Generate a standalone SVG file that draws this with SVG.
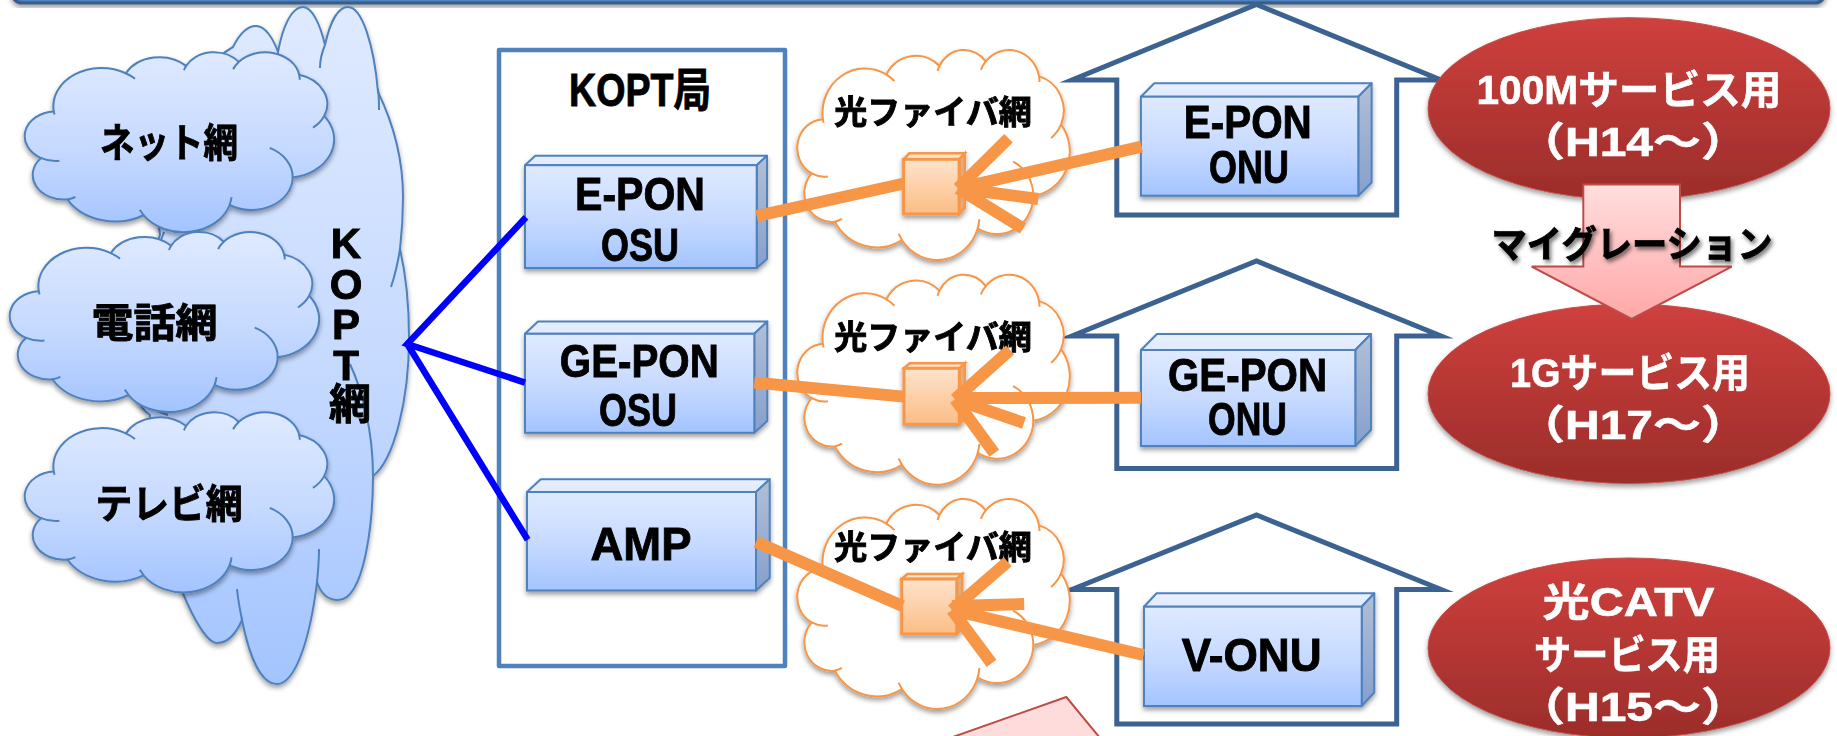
<svg xmlns="http://www.w3.org/2000/svg" xmlns:xlink="http://www.w3.org/1999/xlink" width="1837" height="736" viewBox="0 0 1837 736">
<style>
text{font-family:"Liberation Sans","Noto Sans CJK JP",sans-serif;font-weight:700;text-anchor:middle;fill:#000;stroke:#000;stroke-width:.9}
.w{fill:#fff;stroke:#fff;stroke-width:.6}
.blue{fill:url(#gBlue);stroke:#4f81bd;stroke-width:2}
.org{fill:#fff;stroke:#f79646;stroke-width:2}
.cut{vector-effect:non-scaling-stroke}
.ftop{fill:url(#gTop);stroke:#4f81bd;stroke-width:2;stroke-linejoin:round}
.fside{fill:url(#gSide);stroke:#4f81bd;stroke-width:2;stroke-linejoin:round}
.otop{fill:#fde3cc;stroke:#f79646;stroke-width:2.5}
.oside{fill:#e0ac80;stroke:#f79646;stroke-width:2.5}
.ofront{fill:url(#gOrg);stroke:#f79646;stroke-width:3}
.house{fill:#fff;stroke:#3c6292;stroke-width:5;stroke-miterlimit:20}
.red{fill:url(#gRed);stroke:#c0504d;stroke-width:1}
.pink{fill:url(#gPink);stroke:#be4b48;stroke-width:2}
.bl{fill:none;stroke:#0000ff;stroke-width:6.5}
.ol{fill:none;stroke:#f79646;stroke-width:12}
</style>
<defs>
<linearGradient id="gBlue" x1="0" y1="0" x2="0" y2="1"><stop offset="0" stop-color="#dfeaff"/><stop offset=".55" stop-color="#c5d9ff"/><stop offset="1" stop-color="#a3c4ff"/></linearGradient>
<linearGradient id="gTop" x1="0" y1="0" x2="0" y2="1"><stop offset="0" stop-color="#e8f0ff"/><stop offset="1" stop-color="#e0eaff"/></linearGradient>
<linearGradient id="gSide" x1="0" y1="0" x2="0" y2="1"><stop offset="0" stop-color="#b2bfd6"/><stop offset="1" stop-color="#86a0cc"/></linearGradient>
<linearGradient id="gOrg" x1="0" y1="0" x2="0" y2="1"><stop offset="0" stop-color="#fee3cc"/><stop offset="1" stop-color="#fcbd85"/></linearGradient>
<linearGradient id="gRed" x1="0" y1="0" x2="0" y2="1"><stop offset="0" stop-color="#cf403d"/><stop offset="1" stop-color="#9b2d2a"/></linearGradient>
<linearGradient id="gPink" x1="0" y1="0" x2="0" y2="1"><stop offset="0" stop-color="#ffdede"/><stop offset="1" stop-color="#ffa8a8"/></linearGradient>
<filter id="sh" x="-10%" y="-10%" width="120%" height="125%"><feDropShadow dx="0" dy="3" stdDeviation="2.5" flood-color="#000" flood-opacity=".38"/></filter>
<filter id="tsh" x="-10%" y="-30%" width="120%" height="170%"><feDropShadow dx="2" dy="3" stdDeviation="2" flood-color="#000" flood-opacity=".55"/></filter>
<g id="cloud">
<path class="cut" d="M3900 14370A6753 9190 0 0 1 14004 5200A5333 7267 0 0 1 22455 3430A4365 5945 0 0 1 29832 2479A4857 6595 0 0 1 38317 5574A5333 7273 0 0 1 41818 15458A6775 9220 0 0 1 37405 30204A5785 7867 0 0 1 28557 36815A6752 9215 0 0 1 16483 39267A7720 10543 0 0 1 5808 35473A4360 5918 0 0 1 2118 25550A4345 5945 0 0 1 3900 14370Z"/>
<path class="cut" fill="none" d="M4693 26177A4345 5945 0 0 1 2118 25550M6928 34899A4360 5918 0 0 1 5808 35473M15950 37960A6752 9215 0 0 1 16483 39267M28821 34947A6752 9215 0 0 1 28557 36815M34186 23091A5785 7867 0 0 1 37405 30204M41818 15458A5333 7273 0 0 1 40250 18261M38317 5574A4857 6595 0 0 1 38394 6744M29050 4218A4857 6595 0 0 1 29832 2479M22160 4467A4365 5945 0 0 1 22455 3430M14004 5200A6753 9190 0 0 1 15290 6532M4000 15115A6753 9190 0 0 1 3900 14370"/>
</g>
</defs>

<g id="top-bar" filter="url(#sh)"><rect x="12" y="-30" width="1813" height="33" rx="10" fill="#4f81bd" stroke="#385d8a" stroke-width="3"/></g>

<g id="house-1"><path class="house" d="M1116.8 80H1072L1256.5 4.5L1441 80H1396.7V215H1116.8Z"/></g>
<g id="house-2"><path class="house" d="M1116.8 336H1072L1256.5 261L1441 336H1396.7V468.5H1116.8Z"/></g>
<g id="house-3"><path class="house" d="M1116.8 589.5H1072L1256.5 515L1441 589.5H1396.7V724H1116.8Z"/></g>

<g id="kopt-net" filter="url(#sh)">
<path class="blue" d="M233 47C240 33 248 26 256 26C265 26 273 38 278 52C283 25 292 7 303 7C312 7 320 24 325 45C330 22 338 7 348 7C362 7 374 45 378 92C394 125 403 160 403 197C403 218 402 232 400 249C406 275 409 305 409 338C409 400 394 460 373 476C373 520 365 600 338 600C328 600 321 594 317 582C310 640 295 684 277 684C262 684 250 660 242 620C235 636 227 643 217 643C207 643 193 618 182 591C160 560 145 480 150 415C125 400 120 330 160 235C150 170 190 70 233 47Z"/>
<path fill="none" stroke="#4f81bd" stroke-width="2" d="M320 68C320 60 322 52 325 45M378 89C379 96 379 103 379 110M400 249C398 262 395 275 391 287M350 364C362 390 373 430 373 476M319 549C319 560 318 572 317 582M237 589C238 600 240 610 242 620M157 411L168 415M164 232L161 240"/>
<text x="346" y="220" font-size="42" style="writing-mode:vertical-rl;text-orientation:upright;text-anchor:start;letter-spacing:-6.5px">KOPT網</text>
</g>

<g id="net-cloud" filter="url(#sh)"><use href="#cloud" class="blue" transform="translate(26 51.6) scale(.00713 .004167)"/><text x="169" y="157" font-size="40" textLength="138" lengthAdjust="spacingAndGlyphs">ネット網</text></g>
<g id="tel-cloud" filter="url(#sh)"><use href="#cloud" class="blue" transform="translate(11 231.4) scale(.00713 .004167)"/><text x="154.5" y="337" font-size="40" textLength="126" lengthAdjust="spacingAndGlyphs">電話網</text></g>
<g id="tv-cloud" filter="url(#sh)"><use href="#cloud" class="blue" transform="translate(26 411.7) scale(.00713 .004167)"/><text x="169" y="518" font-size="40" textLength="147" lengthAdjust="spacingAndGlyphs">テレビ網</text></g>

<g id="kopt-station"><rect x="499" y="50" width="286" height="616" fill="none" stroke="#4f81bd" stroke-width="4.5" stroke-linejoin="round"/><text x="640" y="106" font-size="46" textLength="142" lengthAdjust="spacingAndGlyphs">KOPT局</text></g>

<g id="epon-osu" filter="url(#sh)">
<path class="ftop" d="M525 165.2L535.3 155.8H767L756.7 165.2Z"/><path class="fside" d="M756.7 165.2L767 155.8V259L756.7 268Z"/><rect class="blue" x="525" y="165.2" width="231.7" height="102.8"/>
<text x="640" y="210" font-size="47" textLength="130" lengthAdjust="spacingAndGlyphs">E-PON</text><text x="640" y="260.5" font-size="47" textLength="78" lengthAdjust="spacingAndGlyphs">OSU</text></g>
<g id="gepon-osu" filter="url(#sh)">
<path class="ftop" d="M525 333.8L538 321.5H767.3L754.3 333.8Z"/><path class="fside" d="M754.3 333.8L767.3 321.5V421L754.3 432.8Z"/><rect class="blue" x="525" y="333.8" width="229.3" height="99"/>
<text x="639.3" y="376.5" font-size="47" textLength="159" lengthAdjust="spacingAndGlyphs">GE-PON</text><text x="638" y="426.2" font-size="47" textLength="78" lengthAdjust="spacingAndGlyphs">OSU</text></g>
<g id="amp" filter="url(#sh)">
<path class="ftop" d="M527 492L540.7 479.3H769.7L756 492Z"/><path class="fside" d="M756 492L769.7 479.3V578L756 590.5Z"/><rect class="blue" x="527" y="492" width="229" height="98.5"/>
<text x="641" y="559.5" font-size="47" textLength="101" lengthAdjust="spacingAndGlyphs">AMP</text></g>

<g id="fiber-1" filter="url(#sh)"><use href="#cloud" class="org" transform="translate(798.4 49.3) scale(.00628 .00486)"/><text x="933" y="124" font-size="33">光ファイバ網</text></g>
<g id="fiber-2" filter="url(#sh)"><use href="#cloud" class="org" transform="translate(798.4 274) scale(.00628 .00486)"/><text x="933" y="349" font-size="33">光ファイバ網</text></g>
<g id="fiber-3" filter="url(#sh)"><use href="#cloud" class="org" transform="translate(798.4 498.3) scale(.00628 .00486)"/><text x="933" y="559" font-size="33">光ファイバ網</text></g>

<g id="splitter-1" filter="url(#sh)"><path class="otop" d="M903.6 159.3L909.3 153.3H964.8L959.1 159.3Z"/><path class="oside" d="M959.1 159.3L964.8 153.3V208L959.1 214Z"/><rect class="ofront" x="903.6" y="159.3" width="55.5" height="54.7"/></g>
<g id="splitter-2" filter="url(#sh)"><path class="otop" d="M904 368.3L909.7 363.3H964.8L959.3 368.3Z"/><path class="oside" d="M959.3 368.3L964.8 363.3V418.5L959.3 424.3Z"/><rect class="ofront" x="904" y="368.3" width="55.3" height="56"/></g>
<g id="splitter-3" filter="url(#sh)"><path class="otop" d="M901.7 579L907.4 574H962.2L956.8 579Z"/><path class="oside" d="M956.8 579L962.2 574V628.5L956.8 634Z"/><rect class="ofront" x="901.7" y="579" width="55.1" height="55"/></g>

<g id="epon-onu" filter="url(#sh)">
<path class="ftop" d="M1140.9 96.7L1154.3 83.3H1371.6L1358.3 96.7Z"/><path class="fside" d="M1358.3 96.7L1371.6 83.3V182.5L1358.3 195.7Z"/><rect class="blue" x="1140.9" y="96.7" width="217.4" height="99"/>
<text x="1247.8" y="138.3" font-size="46" textLength="128" lengthAdjust="spacingAndGlyphs">E-PON</text><text x="1249" y="182.7" font-size="46" textLength="80" lengthAdjust="spacingAndGlyphs">ONU</text></g>
<g id="gepon-onu" filter="url(#sh)">
<path class="ftop" d="M1141 350L1157 334H1371L1355.3 350Z"/><path class="fside" d="M1355.3 350L1371 334V430L1355.3 446Z"/><rect class="blue" x="1141" y="350" width="214.3" height="96"/>
<text x="1247.5" y="391" font-size="46" textLength="159" lengthAdjust="spacingAndGlyphs">GE-PON</text><text x="1247.5" y="435" font-size="46" textLength="79" lengthAdjust="spacingAndGlyphs">ONU</text></g>
<g id="v-onu" filter="url(#sh)">
<path class="ftop" d="M1144 606.7L1156.6 593.3H1374.3L1361.7 606.7Z"/><path class="fside" d="M1361.7 606.7L1374.3 593.3V692.5L1361.7 706Z"/><rect class="blue" x="1144" y="606.7" width="217.7" height="99.3"/>
<text x="1251.7" y="671" font-size="46" textLength="140" lengthAdjust="spacingAndGlyphs">V-ONU</text></g>

<g id="connectors">
<path class="bl" d="M526 217.3L407.3 344L525 382.6M407.3 344L527.7 539.8"/>
<path class="ol" d="M756.7 216L904 183.5M958 188.3L1008.5 138.3M958 188.3L1141.6 146.7M958 188.3L1038.3 199M958 188.3L1023 228.3"/>
<path class="ol" d="M754.3 382.6L904 396.6M955 399.3L1010 350M955 398L1141 397.7M955 399.3L1024 423M955 399.3L994.3 453.3"/>
<path class="ol" d="M756 542L902.5 606M952 610L1007.7 561.7M952 606L1024.2 604M952 610L1143.6 655M952 610L991.6 663.3"/>
</g>

<g id="svc-100m" filter="url(#sh)"><ellipse class="red" cx="1629" cy="108.7" rx="201" ry="91"/><text class="w" x="1629" y="104" font-size="40" textLength="305" lengthAdjust="spacingAndGlyphs">100Mサービス用</text><text class="w" x="1633" y="156" font-size="40" textLength="232" lengthAdjust="spacingAndGlyphs">（H14～）</text></g>
<g id="svc-1g" filter="url(#sh)"><ellipse class="red" cx="1629" cy="393.8" rx="201" ry="89.7"/><text class="w" x="1630" y="387" font-size="40" textLength="240" lengthAdjust="spacingAndGlyphs">1Gサービス用</text><text class="w" x="1633" y="439.4" font-size="40" textLength="232" lengthAdjust="spacingAndGlyphs">（H17～）</text></g>
<g id="svc-catv" filter="url(#sh)"><ellipse class="red" cx="1629" cy="648" rx="201" ry="90"/><text class="w" x="1628.5" y="616.3" font-size="40" textLength="172" lengthAdjust="spacingAndGlyphs">光CATV</text><text class="w" x="1627" y="669" font-size="40" textLength="186" lengthAdjust="spacingAndGlyphs">サービス用</text><text class="w" x="1633" y="720.5" font-size="40" textLength="232" lengthAdjust="spacingAndGlyphs">（H15～）</text></g>

<g id="migration">
<path class="pink" d="M1583.3 184.5H1680V266.6H1731.7L1631.7 319L1531.7 266.6H1583.3Z"/>
<text x="1632" y="258" font-size="37" textLength="281" lengthAdjust="spacingAndGlyphs" filter="url(#tsh)">マイグレーション</text>
</g>

<g id="callout"><path d="M950 738L1066.3 697L1100 738Z" fill="#ffdcdc" stroke="#be4b48" stroke-width="2"/></g>
</svg>
